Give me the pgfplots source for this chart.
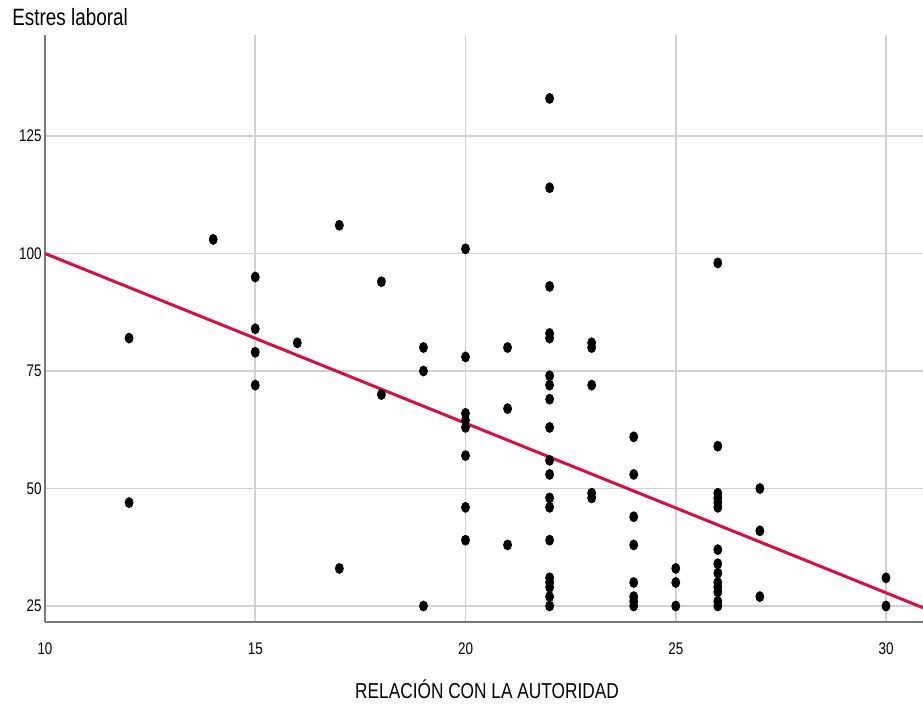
\documentclass[border=0pt]{standalone}
\usepackage{fontspec}
\setmainfont{Liberation Sans}[FakeStretch=0.8]
\usepackage{pgfplots}
\pgfplotsset{compat=1.18}
\usepackage{pgfplotstable}

\definecolor{fitred}{RGB}{213,16,67}
\definecolor{axgray}{RGB}{120,120,120}
\definecolor{gridgray}{RGB}{210,210,210}

% relación con la autoridad vs estrés laboral
\pgfplotstableread{
x y
12 82
12 47
14 103
15 95
15 84
15 79
15 72
16 81
17 106
17 33
18 94
18 70
19 80
19 75
19 25
20 101
20 78
20 66
20 64.5
20 63
20 57
20 46
20 39
21 80
21 67
21 38
22 133
22 114
22 93
22 83
22 82
22 74
22 72
22 69
22 63
22 56
22 53
22 48
22 46
22 39
22 31
22 30
22 29
22 27
22 25
23 81
23 80
23 72
23 49
23 48
24 61
24 53
24 44
24 38
24 30
24 27
24 26
24 25
25 33
25 30
25 25
26 98
26 59
26 49
26 48
26 47
26 46
26 37
26 34
26 32
26 30
26 29
26 28
26 26
26 25
27 50
27 41
27 27
30 31
30 25
}\datos

\begin{document}
\begin{tikzpicture}
  \begin{axis}[
      scale only axis,
      width=439pt,
      height=293.5pt,
      xmin=10, xmax=30.88,
      ymin=21.6, ymax=146.5,
      xtick={10,15,20,25,30},
      ytick={25,50,75,100,125},
      axis lines*=left,
      axis line style={axgray, line width=1pt},
      major tick length=0pt,
      grid=major,
      major grid style={gridgray, line width=0.9pt},
      /pgf/number format/assume math mode=true,
      tick label style={font=\fontsize{8.4}{10}\selectfont, black},
      xticklabel style={yshift=-6.7pt},
      yticklabel style={inner sep=1.5pt},
    ]
    \addplot[only marks, mark=*, mark size=2.5pt,
             mark options={black, xscale=0.8}] table[x=x, y=y] {\datos};
    \addplot[fitred, line width=1.5pt, no marks] coordinates {(10,100) (31,24.2)};
  \end{axis}
  \node[anchor=base west, inner sep=0pt, font=\fontsize{11.8}{13}\selectfont]
    at ([xshift=-16.5pt, yshift=4.5pt]current axis.north west) {Estres laboral};
  \node[anchor=base, inner sep=0pt, font=\fontsize{10.8}{12}\selectfont]
    at ([xshift=1.5pt, yshift=-38pt]current axis.south) {RELACIÓN CON LA AUTORIDAD};
  \pgfresetboundingbox
  \path[use as bounding box] ([xshift=-22.5pt, yshift=-41pt]current axis.south west)
    rectangle ([yshift=17.5pt]current axis.north east);
\end{tikzpicture}
\end{document}
